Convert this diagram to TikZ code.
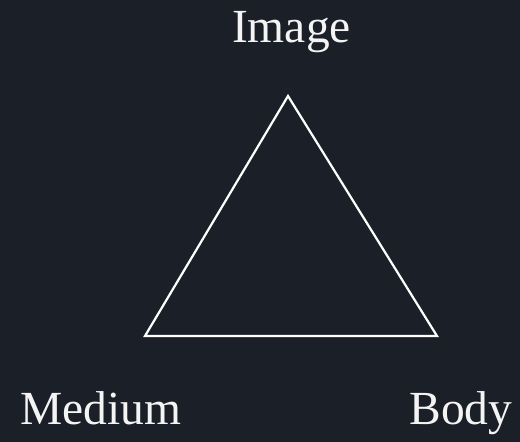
\documentclass[tikz,border=0pt]{standalone}
\usepackage{fontspec}
\setmainfont{Liberation Serif}
\definecolor{bg}{HTML}{1B1F27}
\definecolor{fg}{HTML}{F4F4F4}
\begin{document}
\begin{tikzpicture}[x=1pt,y=1pt,
  lbl/.style={text=fg,font=\fontsize{47.5}{52}\selectfont,anchor=base,inner sep=0pt},
  edge/.style={draw=white,line width=2.2pt,line join=miter}]
\fill[bg] (0,0) rectangle (520,442);
\useasboundingbox (0,0) rectangle (520,442);
\coordinate (top) at (288,346);
\coordinate (left) at (145,106);
\coordinate (right) at (437,106);
\draw[edge] (top) -- (left) -- (right) -- cycle;
\node[lbl] (image) at (291.5,399) {Image};
\node[lbl] (medium) at (101,17) {Medium};
\node[lbl] (body) at (461,17) {Body};
\end{tikzpicture}
\end{document}
